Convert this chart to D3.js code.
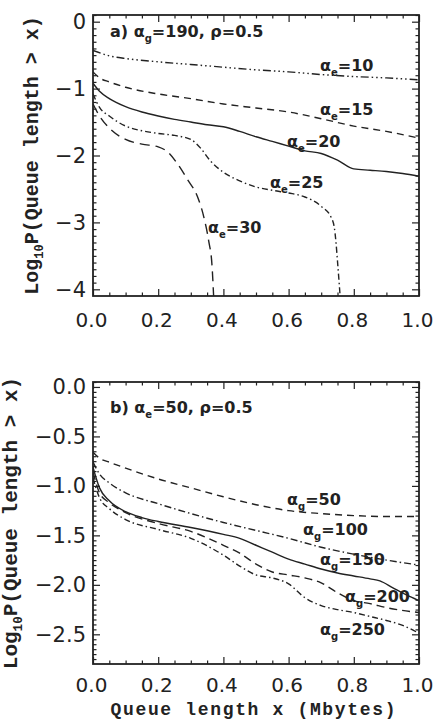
<!DOCTYPE html>
<html><head><meta charset="utf-8">
<script src="https://cdn.jsdelivr.net/npm/d3@7"></script>
<style>
html,body{margin:0;padding:0;background:#fff;}
svg{display:block;}
</style></head>
<body>
<script>
// ---------- data ----------
const xTicks = [0, 0.2, 0.4, 0.6, 0.8, 1.0];
const aYTicks = [0, -1, -2, -3, -4];
const bYTicks = [0, -0.5, -1, -1.5, -2, -2.5];

// panel a: alpha_g = 190, rho = 0.5, varying alpha_e
const a_e10 = [[0,-0.43],[0.05,-0.51],[0.1,-0.55],[0.2,-0.6],[0.3,-0.64],[0.4,-0.68],[0.5,-0.72],[0.6,-0.75],[0.7,-0.79],[0.8,-0.82],[0.9,-0.84],[1.0,-0.87]];
const a_e15 = [[0,-0.75],[0.02,-0.84],[0.05,-0.9],[0.1,-0.98],[0.2,-1.08],[0.3,-1.15],[0.4,-1.23],[0.5,-1.29],[0.6,-1.35],[0.7,-1.45],[0.8,-1.56],[0.9,-1.64],[1.0,-1.74]];
const a_e20 = [[0,-0.92],[0.02,-1.04],[0.05,-1.15],[0.1,-1.27],[0.15,-1.35],[0.2,-1.41],[0.25,-1.46],[0.3,-1.5],[0.35,-1.54],[0.4,-1.57],[0.45,-1.64],[0.5,-1.72],[0.55,-1.79],[0.6,-1.86],[0.65,-1.93],[0.7,-1.97],[0.75,-2.07],[0.8,-2.2],[0.85,-2.22],[0.9,-2.24],[0.95,-2.27],[1.0,-2.31]];
const a_e25 = [[0,-1.08],[0.02,-1.28],[0.05,-1.41],[0.1,-1.56],[0.15,-1.63],[0.2,-1.67],[0.25,-1.7],[0.3,-1.76],[0.33,-1.89],[0.36,-2.08],[0.4,-2.25],[0.45,-2.38],[0.5,-2.47],[0.55,-2.52],[0.6,-2.56],[0.65,-2.62],[0.7,-2.76],[0.73,-2.92],[0.74,-3.07],[0.745,-3.28],[0.75,-3.58],[0.755,-3.9],[0.758,-4.1]];
const a_e30 = [[0,-1.23],[0.02,-1.41],[0.05,-1.59],[0.1,-1.76],[0.15,-1.83],[0.2,-1.87],[0.23,-1.95],[0.26,-2.13],[0.29,-2.36],[0.32,-2.61],[0.34,-2.92],[0.355,-3.28],[0.365,-3.64],[0.37,-4.1]];

// panel b: alpha_e = 50, rho = 0.5, varying alpha_g
const b_g50  = [[0,-0.66],[0.02,-0.72],[0.05,-0.76],[0.1,-0.82],[0.2,-0.93],[0.3,-1.02],[0.4,-1.11],[0.5,-1.19],[0.6,-1.25],[0.7,-1.28],[0.8,-1.3],[0.9,-1.31],[1.0,-1.31]];
const b_g100 = [[0,-0.76],[0.02,-0.88],[0.05,-0.97],[0.1,-1.07],[0.2,-1.18],[0.3,-1.28],[0.4,-1.37],[0.5,-1.45],[0.6,-1.53],[0.7,-1.62],[0.8,-1.69],[0.9,-1.75],[1.0,-1.8]];
const b_g150 = [[0,-0.81],[0.02,-1.02],[0.05,-1.15],[0.1,-1.26],[0.15,-1.32],[0.2,-1.36],[0.3,-1.42],[0.4,-1.49],[0.45,-1.53],[0.5,-1.6],[0.55,-1.67],[0.6,-1.74],[0.65,-1.79],[0.7,-1.84],[0.75,-1.88],[0.8,-1.91],[0.85,-1.94],[0.88,-1.96],[0.92,-2.03],[0.96,-2.1],[1.0,-2.16]];
const b_g200 = [[0,-0.86],[0.02,-1.07],[0.05,-1.17],[0.1,-1.27],[0.2,-1.38],[0.3,-1.46],[0.4,-1.6],[0.45,-1.68],[0.5,-1.79],[0.55,-1.87],[0.6,-1.9],[0.65,-1.93],[0.7,-1.98],[0.75,-2.08],[0.8,-2.16],[0.85,-2.19],[0.9,-2.23],[1.0,-2.28]];
const b_g250 = [[0,-0.92],[0.02,-1.12],[0.05,-1.23],[0.1,-1.34],[0.2,-1.44],[0.3,-1.53],[0.4,-1.7],[0.45,-1.81],[0.5,-1.9],[0.55,-1.93],[0.6,-1.99],[0.65,-2.13],[0.7,-2.21],[0.75,-2.25],[0.8,-2.28],[0.85,-2.32],[0.9,-2.36],[0.95,-2.41],[1.0,-2.49]];

const aLabels = ["10","15","20","25","30"];
const bLabels = ["50","100","150","200","250"];

// ---------- drawing ----------
const W = 434, H = 720;
const svg = d3.select("body").append("svg").attr("width", W).attr("height", H);
svg.append("rect").attr("width", W).attr("height", H).attr("fill", "#fff");

const INK = "#222";
const tickFont = "'DejaVu Sans', sans-serif";
const labFont = "'DejaVu Sans', sans-serif";

function greekLabel(g, x, y, greek, sub, rest) {
  const t = g.append("text").attr("x", x).attr("y", y)
    .attr("font-family", labFont).attr("font-weight", "bold")
    .attr("font-size", 16).attr("fill", INK);
  t.append("tspan").text(greek);
  t.append("tspan").attr("font-size", 10).attr("dy", 5).text(sub);
  t.append("tspan").attr("dy", -5).text(rest);
  return t;
}

function panel(cfg) {
  const x = d3.scaleLinear().domain([0, 1]).range([cfg.left, cfg.right]);
  const y = d3.scaleLinear().domain(cfg.yDomain).range([cfg.bottom, cfg.top]);
  const g = svg.append("g");

  const xMinor = d3.range(0, 1.0001, 0.05).filter(v => Math.abs(v*5 - Math.round(v*5)) > 1e-6);
  const yMinorVals = [];
  for (let v = Math.ceil(cfg.yDomain[0]/cfg.yMinorStep)*cfg.yMinorStep; v <= cfg.yDomain[1] + 1e-9; v += cfg.yMinorStep) {
    const r = +v.toFixed(4);
    if (!cfg.yTicks.some(t => Math.abs(t - r) < 1e-6)) yMinorVals.push(r);
  }

  function styleAxis(sel, size) {
    sel.select(".domain").remove();
    sel.selectAll("line").attr("stroke", INK).attr("stroke-width", 1.2);
    sel.selectAll("text").attr("font-family", tickFont).attr("font-size", size || 20).attr("fill", INK);
  }

  // bottom
  g.append("g").attr("transform", `translate(0,${cfg.bottom})`)
    .call(d3.axisBottom(x).tickValues(xTicks).tickSize(-7).tickPadding(cfg.xPad).tickFormat(d3.format(".1f")))
    .call(s => styleAxis(s, 20))
    .selectAll("text").attr("dx", -2);
  g.append("g").attr("transform", `translate(0,${cfg.bottom})`)
    .call(d3.axisBottom(x).tickValues(xMinor).tickSize(-3.5).tickFormat(""))
    .call(s => styleAxis(s));
  // top
  g.append("g").attr("transform", `translate(0,${cfg.top})`)
    .call(d3.axisTop(x).tickValues(xTicks).tickSize(-7).tickFormat(""))
    .call(s => styleAxis(s));
  g.append("g").attr("transform", `translate(0,${cfg.top})`)
    .call(d3.axisTop(x).tickValues(xMinor).tickSize(-3.5).tickFormat(""))
    .call(s => styleAxis(s));
  // left
  g.append("g").attr("transform", `translate(${cfg.left},0)`)
    .call(d3.axisLeft(y).tickValues(cfg.yTicks).tickSize(-7).tickPadding(7).tickFormat(d3.format(cfg.yFormat)))
    .call(s => styleAxis(s, 21));
  g.append("g").attr("transform", `translate(${cfg.left},0)`)
    .call(d3.axisLeft(y).tickValues(yMinorVals).tickSize(-3.5).tickFormat(""))
    .call(s => styleAxis(s));
  // right
  g.append("g").attr("transform", `translate(${cfg.right},0)`)
    .call(d3.axisRight(y).tickValues(cfg.yTicks).tickSize(-7).tickFormat(""))
    .call(s => styleAxis(s));
  g.append("g").attr("transform", `translate(${cfg.right},0)`)
    .call(d3.axisRight(y).tickValues(yMinorVals).tickSize(-3.5).tickFormat(""))
    .call(s => styleAxis(s));

  // frame
  g.append("rect").attr("x", cfg.left).attr("y", cfg.top)
    .attr("width", cfg.right - cfg.left).attr("height", cfg.bottom - cfg.top)
    .attr("fill", "none").attr("stroke", INK).attr("stroke-width", 1.8);

  // curves
  const line = d3.line().x(d => x(d[0])).y(d => y(d[1])).curve(d3.curveMonotoneX);
  const clipId = "clip" + cfg.id;
  g.append("clipPath").attr("id", clipId).append("rect")
    .attr("x", cfg.left).attr("y", cfg.top).attr("width", cfg.right - cfg.left).attr("height", cfg.bottom - cfg.top);
  const cg = g.append("g").attr("clip-path", `url(#${clipId})`);
  cfg.series.forEach(s => {
    cg.append("path").attr("d", line(s.data)).attr("fill", "none")
      .attr("stroke", INK).attr("stroke-width", 1.4)
      .attr("stroke-dasharray", s.dash || null);
  });

  // curve labels
  cfg.series.forEach(s => {
    greekLabel(g, s.lx, s.ly, "α", cfg.sub, "=" + s.label);
  });

  // panel title
  const t = g.append("text").attr("x", cfg.left + 17).attr("y", cfg.titleY)
    .attr("font-family", labFont).attr("font-weight", "bold").attr("font-size", 16).attr("fill", INK);
  t.append("tspan").text(cfg.titlePre + " α");
  t.append("tspan").attr("font-size", 10).attr("dy", 5).text(cfg.titleSub);
  t.append("tspan").attr("dy", -5).text(cfg.titleRest);

  // y title
  const yt = g.append("text")
    .attr("transform", `translate(${cfg.yTitleX},${(cfg.top + cfg.bottom)/2}) rotate(-90)`)
    .attr("text-anchor", "middle")
    .attr("font-family", "'Liberation Mono', monospace").attr("font-size", cfg.yTitleSize).attr("fill", INK)
    .attr("font-weight", "bold");
  yt.append("tspan").text("Log");
  yt.append("tspan").attr("font-size", cfg.yTitleSize * 0.6).attr("dy", 5).text("10");
  yt.append("tspan").attr("dy", -5).text("P(Queue length > x)");
  return {x, y};
}

panel({
  id: "a", left: 93, right: 419, top: 15, bottom: 296, xPad: 17,
  yDomain: [-4.1, 0.1], yTicks: aYTicks, yMinorStep: 0.1, yFormat: "d",
  sub: "e", titlePre: "a)", titleSub: "g", titleRest: "=190, ρ=0.5", titleY: 37,
  yTitleX: 38, yTitleSize: 20,
  series: [
    {data: a_e10, dash: "8,3,1.5,3,1.5,3,1.5,3", label: aLabels[0], lx: 320, ly: 71},
    {data: a_e15, dash: "7,5", label: aLabels[1], lx: 320, ly: 115},
    {data: a_e20, dash: null, label: aLabels[2], lx: 287, ly: 147},
    {data: a_e25, dash: "6,3,1.5,3", label: aLabels[3], lx: 270, ly: 188},
    {data: a_e30, dash: "10,6", label: aLabels[4], lx: 208, ly: 233}
  ]
});

panel({
  id: "b", left: 93, right: 419, top: 382, bottom: 664, xPad: 14,
  yDomain: [-2.8, 0.05], yTicks: bYTicks, yMinorStep: 0.05, yFormat: ".1f",
  sub: "g", titlePre: "b)", titleSub: "e", titleRest: "=50, ρ=0.5", titleY: 413,
  yTitleX: 17, yTitleSize: 21,
  series: [
    {data: b_g50, dash: "7,5", label: bLabels[0], lx: 287, ly: 505},
    {data: b_g100, dash: "7,3,1.5,3", label: bLabels[1], lx: 303, ly: 535},
    {data: b_g150, dash: null, label: bLabels[2], lx: 320, ly: 565},
    {data: b_g200, dash: "8,5", label: bLabels[3], lx: 345, ly: 602},
    {data: b_g250, dash: "6,3,1.5,3", label: bLabels[4], lx: 320, ly: 635}
  ]
});

// x title (bottom panel)
svg.append("text").attr("x", 253).attr("y", 715).attr("text-anchor", "middle")
  .attr("font-family", "'Liberation Mono', monospace").attr("font-weight", "bold")
  .attr("font-size", 18).attr("fill", INK)
  .attr("textLength", 285).attr("lengthAdjust", "spacing")
  .text("Queue length x (Mbytes)");
</script>
</body></html>
